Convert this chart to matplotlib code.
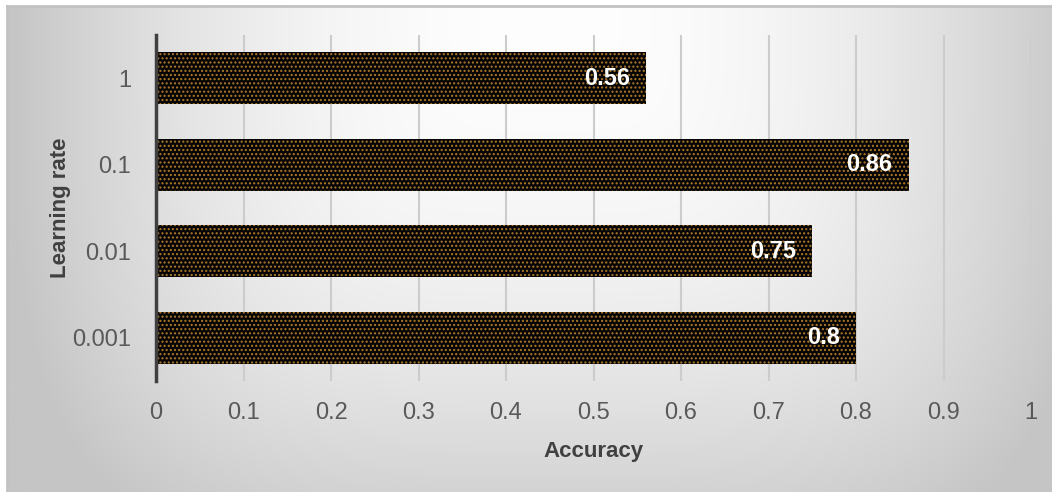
import numpy as np
import matplotlib
matplotlib.use("Agg")
import matplotlib.pyplot as plt

# Data
learning_rates = ["0.001", "0.01", "0.1", "1"]
accuracy = [0.80, 0.75, 0.86, 0.56]
x_ticks = [0, 0.1, 0.2, 0.3, 0.4, 0.5, 0.6, 0.7, 0.8, 0.9, 1]
x_tick_labels = ["0", "0.1", "0.2", "0.3", "0.4", "0.5", "0.6", "0.7", "0.8", "0.9", "1"]

FONT = ["Liberation Sans Narrow", "Liberation Sans", "DejaVu Sans"]
plt.rcParams["font.family"] = FONT
plt.rcParams["hatch.linewidth"] = 1.0

W, H = 1052, 492
fig = plt.figure(figsize=(W / 100, H / 100), dpi=100)
fig.patch.set_facecolor("white")

# Chart area background: soft gradient, light at top centre, grey towards the sides
bx0, by1 = 7, 6
bg = fig.add_axes([bx0 / W, 0, 1 - bx0 / W, 1 - by1 / H])
gx = np.linspace(bx0, W, 400)
gy = np.linspace(by1, H, 200)
X, Y = np.meshgrid(gx, gy)
tx = np.abs(X - 550) / 540
ty = np.abs(Y - 0) / 570
t = np.clip((tx ** 4 + ty ** 4) ** 0.25, 0, 1)
val = 254 - 57 * t ** 2
img = np.dstack([val, val, val]) / 255.0
bg.imshow(img, aspect="auto", extent=[0, 1, 0, 1], origin="upper", interpolation="bilinear")
bg.set_xlim(0, 1)
bg.set_ylim(0, 1)
bg.set_xticks([])
bg.set_yticks([])
for side in ["right", "bottom"]:
    bg.spines[side].set_visible(False)
for side in ["top", "left"]:
    bg.spines[side].set_color("#c2c2c2")
    bg.spines[side].set_linewidth(2)

# Main plot
left, right, top, bottom = 156, 1031, 35, 381
ax = fig.add_axes([left / W, 1 - bottom / H, (right - left) / W, (bottom - top) / H])
ax.patch.set_alpha(0)

ypos = np.arange(len(learning_rates))
ax.barh(ypos, accuracy, height=0.6, color="#050505", edgecolor="none", zorder=3)
ax.barh(ypos, accuracy, height=0.6, color="none", edgecolor="#b07a2c",
        hatch="....", linewidth=0, zorder=3)

for y, v in zip(ypos, accuracy):
    ax.annotate(f"{v:g}", xy=(v, y), xytext=(-16, 0), textcoords="offset pixels",
                ha="right", va="center", color="white", fontsize=17,
                fontweight="bold", zorder=5)

ax.set_xlim(0, 1)
ax.set_ylim(-0.5, len(learning_rates) - 0.5)
ax.set_xticks(x_ticks)
ax.set_xticklabels(x_tick_labels)
ax.set_yticks(ypos)
ax.set_yticklabels(learning_rates)
ax.tick_params(axis="both", length=0, labelsize=17, labelcolor="#595959")
ax.tick_params(axis="x", pad=15)
ax.tick_params(axis="y", pad=18)

ax.grid(axis="x", color="#cccccc", linewidth=1.5, zorder=0)
ax.set_axisbelow(True)
for side in ["top", "right", "bottom"]:
    ax.spines[side].set_visible(False)
ax.spines["left"].set_color("#404040")
ax.spines["left"].set_linewidth(2.5)
ax.spines["left"].set_zorder(4)

ax.set_xlabel("Accuracy", fontsize=16, fontweight="bold", color="#404040", labelpad=12)
ax.set_ylabel("Learning rate", fontsize=16, fontweight="bold", color="#404040", labelpad=1)

fig.savefig("out.png", dpi=100)
